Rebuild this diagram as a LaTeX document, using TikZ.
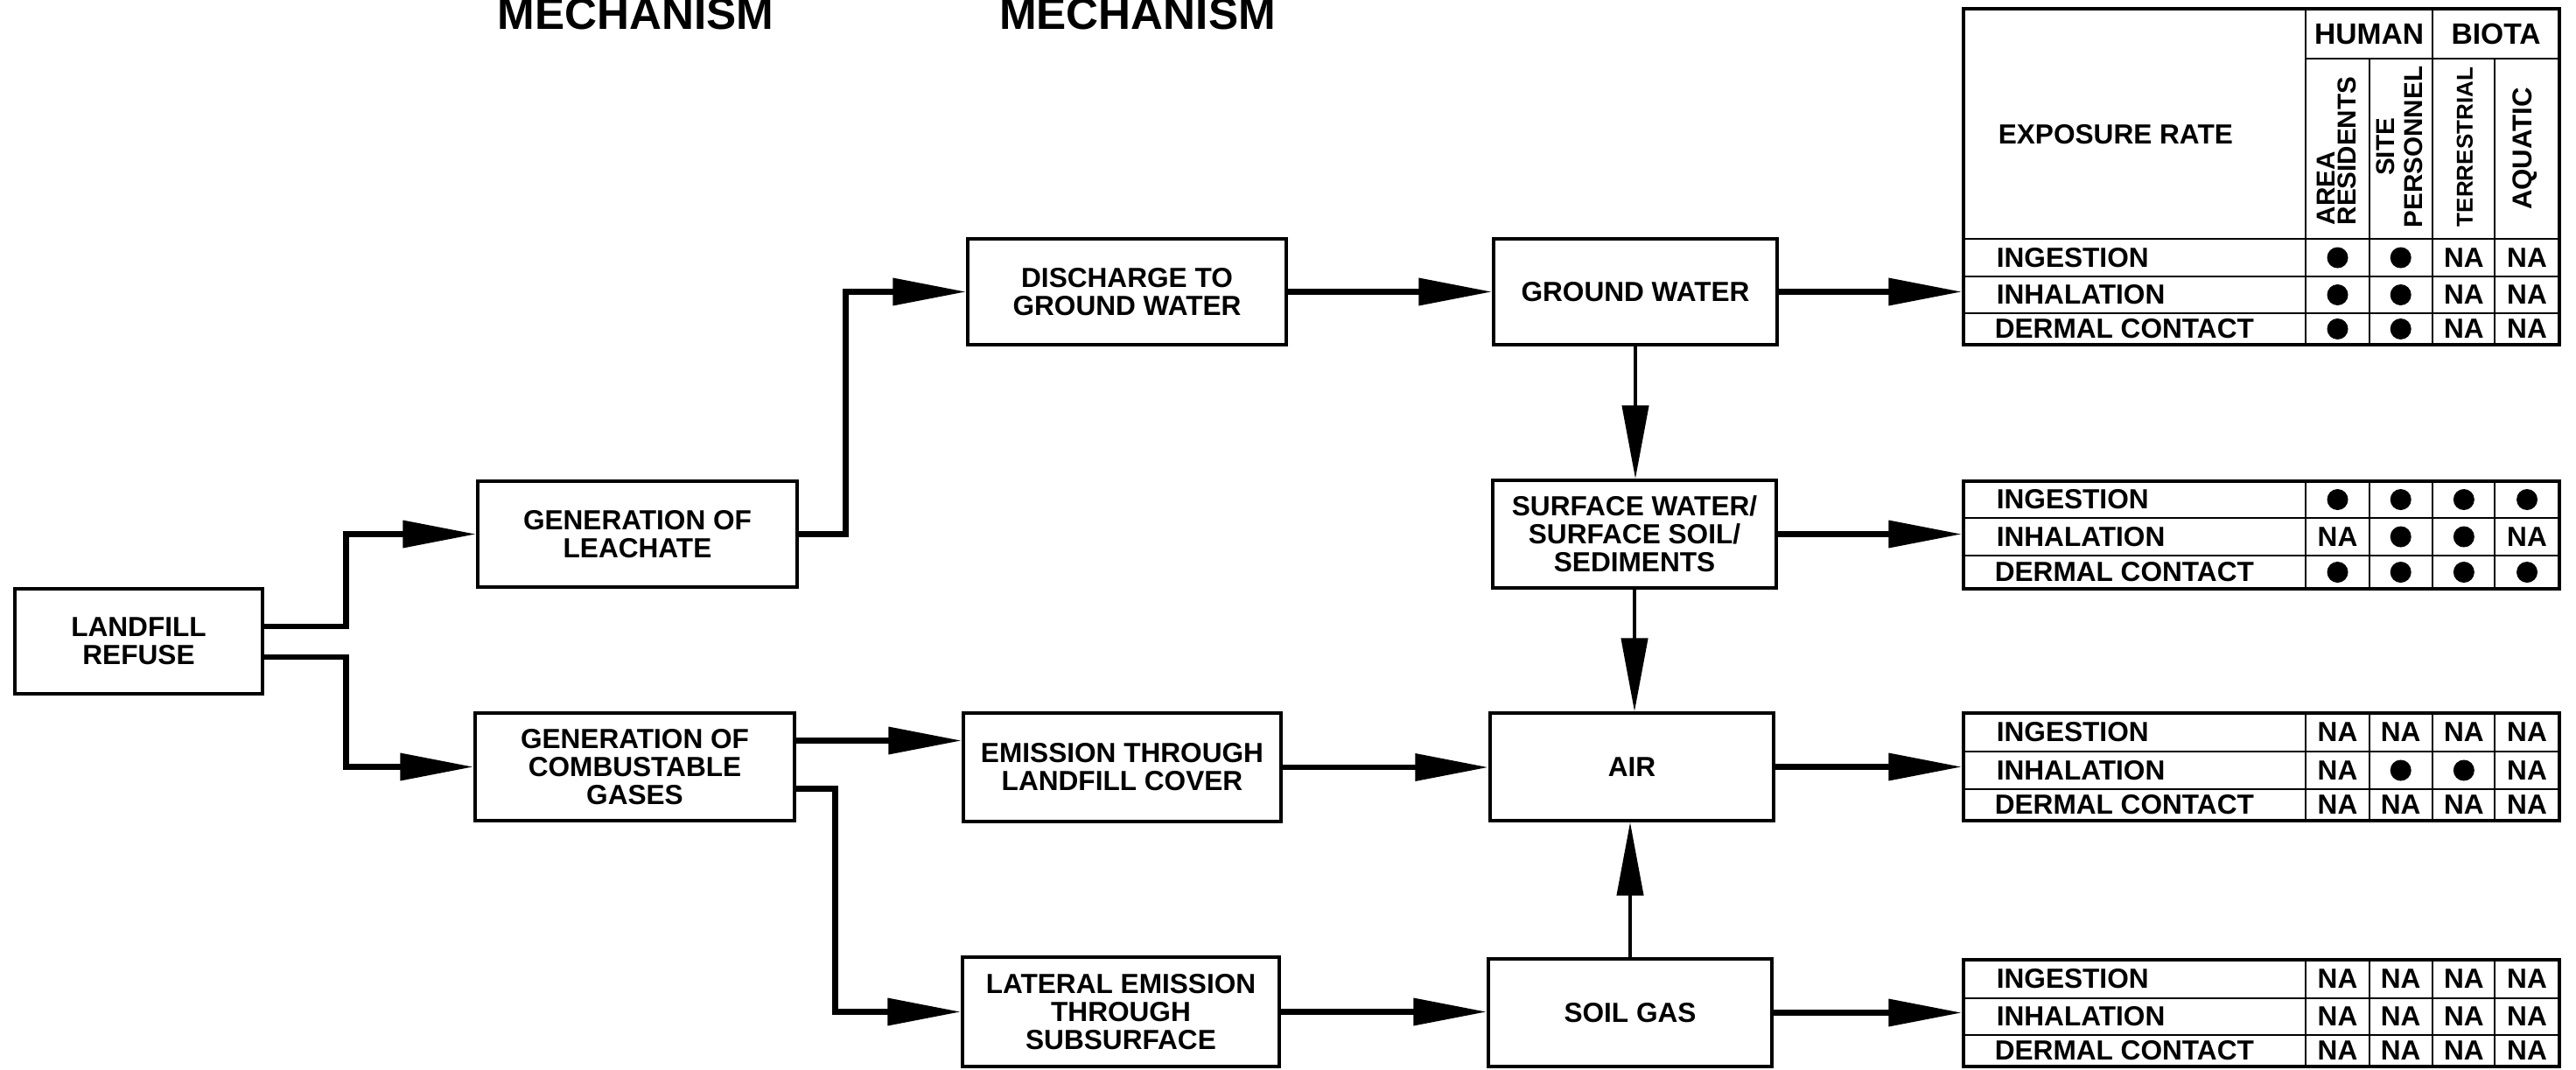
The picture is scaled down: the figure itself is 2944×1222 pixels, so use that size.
\documentclass[tikz,border=0pt]{standalone}
\usepackage{fontspec}
\setmainfont{Liberation Sans}
\usetikzlibrary{arrows.meta,calc}
\newcommand\bxf{\fontsize{7.9}{8}\selectfont\bfseries}
\newcommand\tbf{\fontsize{7.9}{8}\selectfont\bfseries}
\newcommand\cellrow[3]{%
  \foreach \cv [count=\ci] in {#3} {%
    \if\cv D\node[dotcell] (#1\ci) at ({2671.5+72.17*(\ci-1)},#2) {};%
    \else\node[nacell] (#1\ci) at ({2671.5+72.17*(\ci-1)},#2) {NA};\fi
  }}
\newcommand\ratetable[5]{%
  \draw[tline] (2244,#2) -- (2925,#2) (2244,#3) -- (2925,#3) (2244,#4) -- (2925,#4);
  \foreach \xx in {2635,2708,2780,2851} {\draw[tline] (\xx,#2) -- (\xx,#5);}
  \node[rowlab] (#1ing) at (2281,{(#2+#3)/2}) {INGESTION};
  \node[rowlab] (#1inh) at (2281,{(#3+#4)/2}) {INHALATION};
  \node[rowlab] (#1der) at (2279,{(#4+#5)/2}) {DERMAL CONTACT};
}
\tikzset{
  box/.style={draw, line width=0.85pt, align=center, font=\bxf, inner sep=0pt},
  conn/.style={line width=1.7pt, -{Triangle[length=21pt,width=7.5pt]}},
  vconn/.style={line width=1.1pt, -{Triangle[length=21pt,width=7.5pt]}},
  tframe/.style={draw, line width=0.85pt, inner sep=0pt},
  tline/.style={line width=0.55pt},
  rowlab/.style={anchor=west, font=\tbf, inner sep=0pt},
  dotcell/.style={circle, fill=black, inner sep=0pt, minimum size=6pt},
  nacell/.style={font=\tbf, inner sep=0pt},
  colhead/.style={rotate=90, inner sep=0pt},
  headtxt/.style={font=\fontsize{8.4}{9}\selectfont\bfseries, inner sep=0pt},
  title/.style={font=\fontsize{12.8}{14}\selectfont\bfseries, inner sep=0pt, anchor=base},
}
\begin{document}
\begin{tikzpicture}[x=0.25pt,y=-0.25pt]
\useasboundingbox (0,0) rectangle (2944,1222);
\clip (0,0) rectangle (2944,1222);

% column titles (cut off at top, as in the reference)
\node[title] (mech1) at (726.5,33) {MECHANISM};
\node[title] (mech2) at (1300,33) {MECHANISM};

% boxes
\node[box, minimum width=70.75pt, minimum height=30pt] (refuse) at (158.5,733) {LANDFILL\\REFUSE};
\node[box, minimum width=91.25pt, minimum height=30.25pt] (leach) at (728.5,610.5) {GENERATION OF\\LEACHATE};
\node[box, minimum width=91.25pt, minimum height=30.75pt] (comb) at (725.5,876.5) {GENERATION OF\\COMBUSTABLE\\GASES};
\node[box, minimum width=91pt, minimum height=30.25pt] (disch) at (1288,333.5) {DISCHARGE TO\\GROUND WATER};
\node[box, minimum width=90.75pt, minimum height=31pt] (emis) at (1282.5,877) {EMISSION THROUGH\\LANDFILL COVER};
\node[box, minimum width=90.5pt, minimum height=31.25pt] (lat) at (1281,1156.5) {LATERAL EMISSION\\THROUGH\\SUBSURFACE};
\node[box, minimum width=81pt, minimum height=30.25pt] (gw) at (1869,333.5) {GROUND WATER};
\node[box, minimum width=81pt, minimum height=30.75pt] (surf) at (1868,610.5) {SURFACE WATER/\\SURFACE SOIL/\\SEDIMENTS};
\node[box, minimum width=81pt, minimum height=30.75pt] (air) at (1865,876.5) {AIR};
\node[box, minimum width=81pt, minimum height=30.75pt] (soil) at (1863,1157.5) {SOIL GAS};

% table frames
\node[tframe, minimum width=170.25pt, minimum height=96pt] (t1) at (2584.5,202) {};
\node[tframe, minimum width=170.25pt, minimum height=30.75pt] (t2) at (2584.5,611.5) {};
\node[tframe, minimum width=170.25pt, minimum height=30.75pt] (t3) at (2584.5,876.5) {};
\node[tframe, minimum width=170.25pt, minimum height=30.5pt] (t4) at (2584.5,1158) {};

% table 1 header
\draw[tline] (2635,67) -- (2925,67);
\draw[tline] (2635,10) -- (2635,273) (2780,10) -- (2780,273) (2708,67) -- (2708,273) (2851,67) -- (2851,273);
\node[rowlab] (exprate) at (2283,154) {EXPOSURE RATE};
\node[headtxt] (human) at (2707.5,39) {HUMAN};
\node[headtxt] (biota) at (2852.5,39) {BIOTA};
\node[colhead, anchor=west, align=left, font=\fontsize{7.4}{6}\selectfont\bfseries] (area) at (2670,258) {AREA\\RESIDENTS};
\node[colhead, align=center, font=\fontsize{7.4}{8}\selectfont\bfseries] (site) at (2742,168) {SITE\\PERSONNEL};
\node[colhead, font=\fontsize{6.5}{7}\selectfont\bfseries] (terr) at (2817,168) {TERRESTRIAL};
\node[colhead, font=\fontsize{7.8}{8}\selectfont\bfseries] (aqua) at (2886,170) {AQUATIC};

% table bodies
\ratetable{t1}{273}{316}{358}{394}
\cellrow{t1a}{294.5}{D,D,N,N}
\cellrow{t1b}{337}{D,D,N,N}
\cellrow{t1c}{376}{D,D,N,N}

\ratetable{t2}{550}{592}{635}{673}
\cellrow{t2a}{571}{D,D,D,D}
\cellrow{t2b}{613.5}{N,D,D,N}
\cellrow{t2c}{654}{D,D,D,D}

\ratetable{t3}{815}{859}{902}{938}
\cellrow{t3a}{837}{N,N,N,N}
\cellrow{t3b}{880.5}{N,D,D,N}
\cellrow{t3c}{920}{N,N,N,N}

\ratetable{t4}{1097}{1141}{1183}{1219}
\cellrow{t4a}{1119}{N,N,N,N}
\cellrow{t4b}{1162}{N,N,N,N}
\cellrow{t4c}{1201}{N,N,N,N}

% connector helper coordinates
\coordinate (re1) at ($(refuse.east)+(0,-17)$);
\coordinate (re2) at ($(refuse.east)+(0,18)$);
\coordinate (ce1) at ($(comb.east)+(0,-30)$);
\coordinate (ce2) at ($(comb.east)+(0,25)$);

% connectors
\draw[conn] (re1) -| ($(leach.west)+(-149,0)$) -- (leach.west);
\draw[conn] (re2) -| ($(comb.west)+(-146,0)$) -- (comb.west);
\draw[conn] (leach.east) -| ($(disch.west)+(-138,0)$) -- (disch.west);
\draw[conn] (ce1) -- (ce1 -| emis.west);
\draw[conn] (ce2) -| ($(lat.west)+(-144,0)$) -- (lat.west);
\draw[conn] (disch.east) -- (disch.east -| gw.west);
\draw[conn] (emis.east) -- (emis.east -| air.west);
\draw[conn] (lat.east) -- (lat.east -| soil.west);
\draw[vconn] (gw.south) -- (gw.south |- surf.north);
\draw[vconn] (surf.south) -- (surf.south |- air.north);
\draw[vconn] (soil.north) -- (soil.north |- air.south);
\draw[conn] (gw.east) -- (gw.east -| t1.west);
\draw[conn] (surf.east) -- (surf.east -| t2.west);
\draw[conn] (air.east) -- (air.east -| t3.west);
\draw[conn] (soil.east) -- (soil.east -| t4.west);
\end{tikzpicture}
\end{document}
